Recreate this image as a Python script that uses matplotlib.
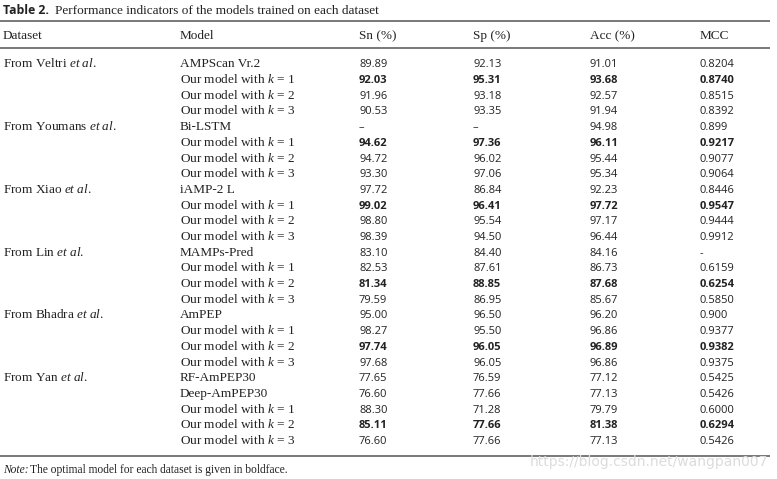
import matplotlib
matplotlib.use("Agg")
import matplotlib.pyplot as plt

plt.rcParams['mathtext.fontset'] = 'custom'
plt.rcParams['mathtext.rm'] = 'Liberation Serif'
plt.rcParams['mathtext.it'] = 'Liberation Serif:italic'

datasets = ["From Veltri $et\\ al.$", "From Youmans $et\\ al.$", "From Xiao $et\\ al.$",
            "From Lin $et\\ al.$", "From Bhadra $et\\ al.$", "From Yan $et\\ al.$"]
group_models = [
    ["AMPScan Vr.2"],
    ["Bi-LSTM"],
    ["iAMP-2 L"],
    ["MAMPs-Pred"],
    ["AmPEP"],
    ["RF-AmPEP30", "Deep-AmPEP30"],
]
sn = ["89.89", "92.03", "91.96", "90.53",
      "\u2013", "94.62", "94.72", "93.30",
      "97.72", "99.02", "98.80", "98.39",
      "83.10", "82.53", "81.34", "79.59",
      "95.00", "98.27", "97.74", "97.68",
      "77.65", "76.60", "88.30", "85.11", "76.60"]
sp = ["92.13", "95.31", "93.18", "93.35",
      "\u2013", "97.36", "96.02", "97.06",
      "86.84", "96.41", "95.54", "94.50",
      "84.40", "87.61", "88.85", "86.95",
      "96.50", "95.50", "96.05", "96.05",
      "76.59", "77.66", "71.28", "77.66", "77.66"]
acc = ["91.01", "93.68", "92.57", "91.94",
       "94.98", "96.11", "95.44", "95.34",
       "92.23", "97.72", "97.17", "96.44",
       "84.16", "86.73", "87.68", "85.67",
       "96.20", "96.86", "96.89", "96.86",
       "77.12", "77.13", "79.79", "81.38", "77.13"]
mcc = ["0.8204", "0.8740", "0.8515", "0.8392",
       "0.899", "0.9217", "0.9077", "0.9064",
       "0.8446", "0.9547", "0.9444", "0.9912",
       "-", "0.6159", "0.6254", "0.5850",
       "0.900", "0.9377", "0.9382", "0.9375",
       "0.5425", "0.5426", "0.6000", "0.6294", "0.5426"]
best_k = [1, 1, 1, 2, 2, 2]

headers = ["Dataset", "Model", "Sn (%)", "Sp (%)", "Acc (%)", "MCC"]
col_x = [3, 180, 359, 473, 590, 700]

W, H = 777, 479
fig = plt.figure(figsize=(W / 100, H / 100), dpi=100)
ax = fig.add_axes([0, 0, 1, 1])
ax.set_xlim(0, W)
ax.set_ylim(H, 0)
ax.axis('off')

serif = 'Liberation Serif'
sans = 'Open Sans'
fs = 9.5
tc = '#222222'
bl = 3.8  # baseline offset from row centre

# title
ax.text(3, 10 + bl, "Table 2.", fontfamily=sans, fontweight='bold', fontsize=8.8, color=tc, va='baseline')
ax.text(55, 10 + bl, "Performance indicators of the models trained on each dataset",
        fontfamily=serif, fontsize=fs, color=tc, va='baseline')

# rules
for y in [21, 47.5, 456]:
    ax.plot([0, 770], [y, y], color='#555555', lw=1.1, solid_capstyle='butt')

for x, h in zip(col_x, headers):
    ax.text(x, 35 + bl, h, fontfamily=serif, fontsize=fs, color=tc, va='baseline')

y0, dy = 63.5, 15.7
row = 0
for g, (ds, models) in enumerate(zip(datasets, group_models)):
    rows = models + ["Our model with $k$ = %d" % k for k in (1, 2, 3)]
    for j, m in enumerate(rows):
        y = y0 + row * dy + bl
        if j == 0:
            ax.text(col_x[0], y, ds, fontfamily=serif, fontsize=fs, color=tc, va='baseline')
        ax.text(col_x[1], y, m, fontfamily=serif, fontsize=fs, color=tc, va='baseline')
        bold = j == len(models) + best_k[g] - 1
        for x, vals in zip(col_x[2:], [sn, sp, acc, mcc]):
            ax.text(x, y, vals[row], fontfamily=sans, fontsize=8.0, color=tc, va='baseline',
                    fontweight='bold' if bold else 'normal')
        row += 1

ax.text(3, 469 + bl, "Note:", fontfamily=serif, fontstyle='italic', fontsize=8.3, color=tc, va='baseline')
ax.text(30, 469 + bl, "The optimal model for each dataset is given in boldface.",
        fontfamily=serif, fontsize=8.3, color=tc, va='baseline')

ax.text(768, 462, "https://blog.csdn.net/wangpan007", fontfamily='DejaVu Sans',
        fontsize=10, color='#dcdcdc', ha='right', va='center')

fig.savefig("out.png", dpi=100)
